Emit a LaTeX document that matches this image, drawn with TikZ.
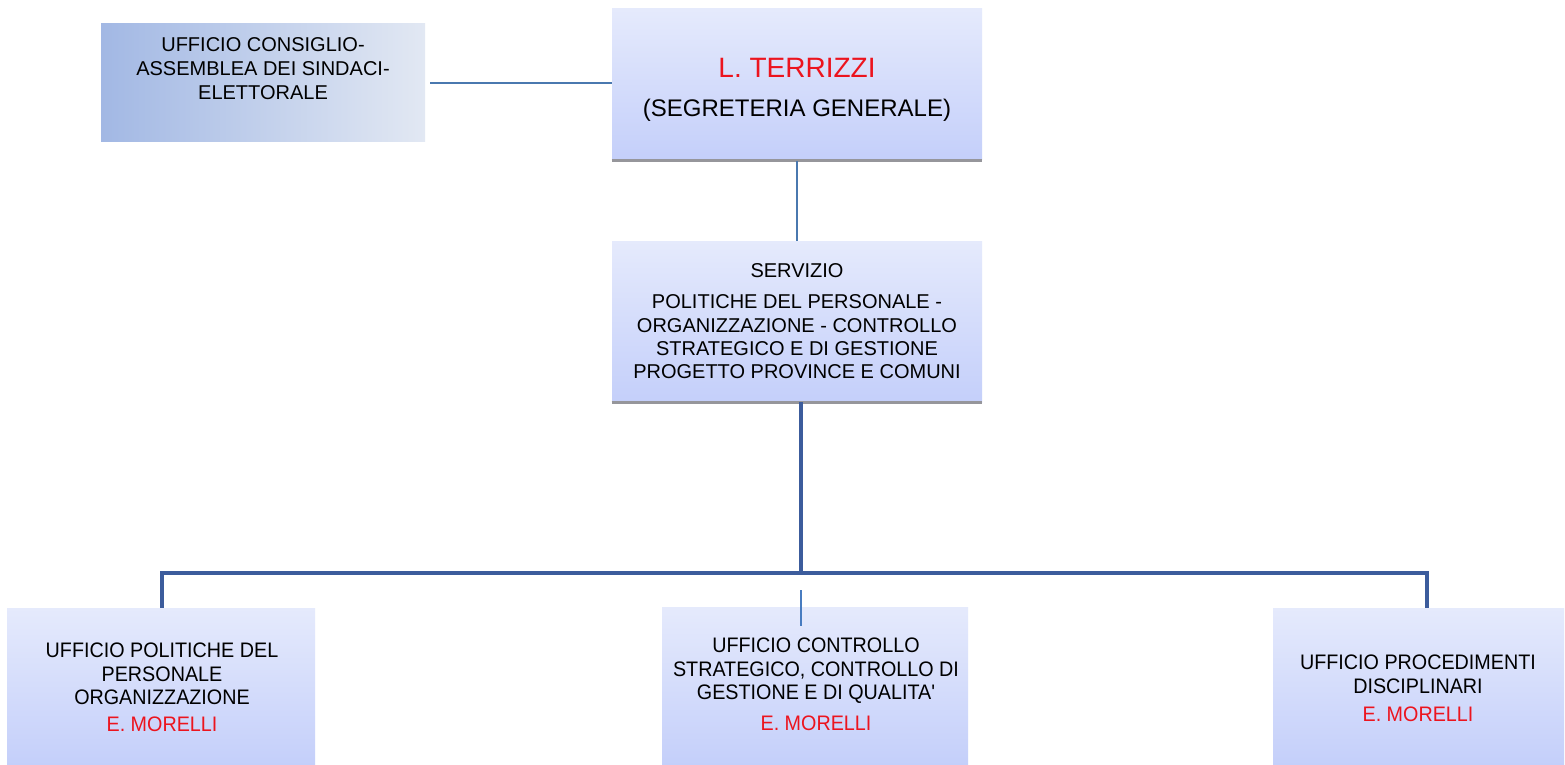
\documentclass[tikz,border=0pt]{standalone}
\usepackage{fontspec}
\setmainfont{Liberation Sans}
\newfontfamily\narrowfont[FakeStretch=0.94]{Liberation Sans}
\usetikzlibrary{shadings}
\definecolor{boxtop}{RGB}{229,234,252}
\definecolor{boxbot}{RGB}{196,207,250}
\definecolor{cslight}{RGB}{226,232,243}
\definecolor{csdark}{RGB}{162,184,228}
\definecolor{thinln}{RGB}{74,120,175}
\definecolor{thickln}{RGB}{60,92,156}
\definecolor{smallln}{RGB}{72,124,192}
\definecolor{namered}{RGB}{236,20,30}
\definecolor{shadowgray}{RGB}{150,150,155}
\tikzset{
  orgbox/.style={draw=none, inner sep=0pt, top color=boxtop, bottom color=boxbot},
  csbox/.style={draw=none, inner sep=0pt, left color=csdark, right color=cslight},
  lbl/.style={align=center, inner sep=0pt, text=black},
  thinconn/.style={draw=thinln, line width=0.8pt},
  thickconn/.style={draw=thickln, line width=2pt},
  smallconn/.style={draw=smallln, line width=1pt},
  shadowline/.style={draw=shadowgray, line width=1.3pt}
}
\begin{document}
\begin{tikzpicture}[x=0.5pt,y=-0.5pt]
\useasboundingbox[fill=white] (0,0) rectangle (1565,765);
% boxes
\node[csbox, minimum width=162pt, minimum height=59pt] (cs) at (263,83) {};
\node[orgbox, minimum width=185pt, minimum height=75.5pt] (ter) at (797,84.5) {};
\node[orgbox, minimum width=185pt, minimum height=80.5pt] (ser) at (797,321.5) {};
\node[orgbox, minimum width=154pt, minimum height=78.5pt] (b1) at (161,686.5) {};
\node[orgbox, minimum width=153pt, minimum height=79pt] (b2) at (815,686) {};
\node[orgbox, minimum width=145.5pt, minimum height=78.5pt] (b3) at (1418.5,686.5) {};
\draw[shadowline] (ter.south west) -- (ter.south east);
\draw[shadowline] (ser.south west) -- (ser.south east);
% labels
\node[lbl, font=\fontsize{10}{12}\selectfont] (cst) at (263,69) {UFFICIO CONSIGLIO-\\ASSEMBLEA DEI SINDACI-\\ELETTORALE};
\node[lbl, font=\fontsize{14}{16}\selectfont, text=namered] (tername) at (797,68) {L. TERRIZZI};
\node[lbl, font=\fontsize{12}{14}\selectfont] (tert) at (797,110) {(SEGRETERIA GENERALE)};
\node[lbl, font=\fontsize{10}{12}\selectfont] (sert1) at (797,271) {SERVIZIO};
\node[lbl, font=\fontsize{10}{11.65}\selectfont] (sert2) at (797,337) {POLITICHE DEL PERSONALE -\\ORGANIZZAZIONE - CONTROLLO\\STRATEGICO E DI GESTIONE\\PROGETTO PROVINCE E COMUNI};
\node[lbl, font=\narrowfont\fontsize{10.5}{11.8}\selectfont] (b1t) at (162,674) {UFFICIO POLITICHE DEL\\PERSONALE\\ORGANIZZAZIONE};
\node[lbl, font=\narrowfont\fontsize{10.5}{11.8}\selectfont, text=namered] (b1n) at (162,724) {E. MORELLI};
\node[lbl, font=\narrowfont\fontsize{10.5}{11.8}\selectfont] (b2t) at (816,671) {UFFICIO CONTROLLO\\STRATEGICO, CONTROLLO DI\\GESTIONE E DI QUALITA'};
\node[lbl, font=\narrowfont\fontsize{10.5}{11.8}\selectfont, text=namered] (b2n) at (816,723) {E. MORELLI};
\node[lbl, font=\narrowfont\fontsize{10.5}{11.8}\selectfont] (b3t) at (1418,674) {UFFICIO PROCEDIMENTI\\DISCIPLINARI};
\node[lbl, font=\narrowfont\fontsize{10.5}{11.8}\selectfont, text=namered] (b3n) at (1418,714) {E. MORELLI};
% connectors
\coordinate (csr) at (430,83);
\draw[thinconn] (csr) -- (ter.west |- csr);
\coordinate (tb) at (797,161);
\draw[thinconn] (tb) -- (ser.north -| tb);
\coordinate (hub) at (801,573);
\coordinate (lx) at (162,0);
\coordinate (rx) at (1427,0);
\draw[thickconn] (ser.south -| hub) -- (hub);
\draw[thickconn] (b1.north -| lx) |- (hub) -| (b3.north -| rx);
\coordinate (stubtop) at (801,590);
\coordinate (stubbot) at (801,626);
\draw[smallconn] (stubtop) -- (stubbot);
\end{tikzpicture}
\end{document}
